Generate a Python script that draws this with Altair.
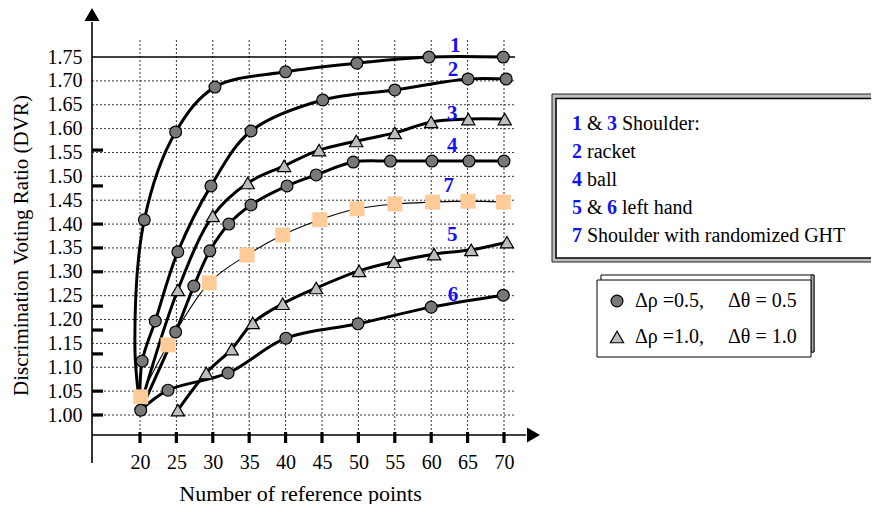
import altair as alt
import pandas as pd

# ---------------- data ----------------
X_TICKS = [20, 25, 30, 35, 40, 45, 50, 55, 60, 65, 70]
Y_LABELS = [1.00, 1.05, 1.10, 1.15, 1.20, 1.25, 1.30, 1.35, 1.40, 1.45,
            1.50, 1.55, 1.60, 1.65, 1.70, 1.75]
Y_TICK_MARKS = [1.00, 1.05, 1.128, 1.178, 1.228, 1.30, 1.35, 1.40, 1.48, 1.555]

CURVE_NAMES = ["1", "2", "3", "4", "5", "6", "7"]
CURVE_SHAPES = ["circle", "circle", "triangle", "circle", "triangle", "circle", "square"]

C1_X = [20.0, 19.3, 20.6, 24.9, 30.3, 40.0, 49.8, 59.7, 69.9]
C1_Y = [1.017, 1.147, 1.409, 1.593, 1.687, 1.719, 1.737, 1.750, 1.750]
C1_M = [0, 0, 1, 1, 1, 1, 1, 1, 1]

C2_X = [20.0, 20.3, 22.1, 25.2, 29.75, 35.25, 45.1, 55.0, 65.05, 70.3]
C2_Y = [1.027, 1.113, 1.197, 1.342, 1.480, 1.595, 1.660, 1.681, 1.704, 1.704]
C2_M = [0, 1, 1, 1, 1, 1, 1, 1, 1, 1]

C3_X = [20.1, 25.2, 30.0, 34.8, 39.8, 44.6, 49.7, 55.0, 60.0, 65.1, 70.1]
C3_Y = [1.021, 1.262, 1.417, 1.486, 1.522, 1.555, 1.574, 1.591, 1.614, 1.620, 1.620]
C3_M = [0, 1, 1, 1, 1, 1, 1, 1, 1, 1, 1]

C4_X = [20.1, 24.9, 27.4, 29.6, 32.2, 35.25, 40.2, 44.2, 49.3, 54.4, 60.1, 65.2, 70.0]
C4_Y = [1.010, 1.174, 1.270, 1.344, 1.400, 1.440, 1.480, 1.503, 1.530, 1.532,
        1.532, 1.532, 1.532]
C4_M = [0, 1, 1, 1, 1, 1, 1, 1, 1, 1, 1, 1, 1]

C5_X = [25.2, 29.1, 32.6, 35.5, 39.6, 44.2, 50.1, 54.9, 60.4, 65.5, 70.4]
C5_Y = [1.010, 1.088, 1.138, 1.193, 1.233, 1.266, 1.302, 1.321, 1.337, 1.346, 1.362]
C5_M = [1, 1, 1, 1, 1, 1, 1, 1, 1, 1, 1]

C6_X = [20.1, 23.85, 32.1, 40.05, 49.95, 60.0, 69.9]
C6_Y = [1.010, 1.052, 1.088, 1.161, 1.191, 1.226, 1.251]
C6_M = [1, 1, 1, 1, 1, 1, 1]

C7_X = [20.1, 23.85, 29.5, 34.7, 39.6, 44.7, 49.8, 55.0, 60.2, 65.05, 69.9]
C7_Y = [1.038, 1.147, 1.277, 1.335, 1.377, 1.409, 1.432, 1.442, 1.446, 1.448, 1.446]
C7_M = [1, 1, 1, 1, 1, 1, 1, 1, 1, 1, 1]

LABEL_X = [63.3, 63.0, 62.9, 62.9, 62.9, 63.0, 62.4]
LABEL_Y = [1.773, 1.723, 1.631, 1.564, 1.377, 1.251, 1.480]

LEG1_TEXT = ["1", "&", "3", "Shoulder:", "2", "racket", "4", "ball",
             "5", "&", "6", "left hand", "7", "Shoulder with randomized GHT"]
LEG1_BLUE = [1, 0, 1, 0, 1, 0, 1, 0, 1, 0, 1, 0, 1, 0]
LEG1_LINE = [0, 0, 0, 0, 1, 1, 2, 2, 3, 3, 3, 3, 4, 4]

LEG2_TEXT = ["\u0394\u03c1 =0.5,", "\u0394\u03b8 = 0.5", "\u0394\u03c1 =1.0,", "\u0394\u03b8 = 1.0"]
LEG2_LINE = [0, 0, 1, 1]

X_TITLE = "Number of reference points"
Y_TITLE = "Discrimination Voting Ratio (DVR)"

# ---------------- layout / style ----------------
W, H = 448, 427
X_DOMAIN = [13.41, 74.945]
Y_DOMAIN = [0.9581, 1.8527]
FONT = "Liberation Serif"
BLUE = "#1212F5"
CIRCLE_FILL = "#787878"
TRI_FILL = "#bdbdbd"
SQUARE_FILL = "#FFCC99"

LEG1_COL = [480, 495, 515, 530, 480, 495, 480, 495, 480, 495, 515, 530, 480, 495]
LEG1_ROW_Y = [116, 144, 172, 200, 228]
LEG2_COL = [543, 636, 543, 636]
LEG2_ROW_Y = [293, 329]

XS = alt.Scale(domain=X_DOMAIN, nice=False, zero=False)
YS = alt.Scale(domain=Y_DOMAIN, nice=False, zero=False)

X_AXIS = alt.Axis(values=X_TICKS, format="d", domain=False, ticks=False, tickSize=0,
                  grid=False, labelFont=FONT, labelFontSize=20, labelColor="black",
                  labelPadding=27, labelBaseline="middle",
                  title=X_TITLE, titleFont=FONT, titleFontSize=22, titleFontWeight="normal",
                  titleColor="black", titleX=208, titleY=58, titleBaseline="middle",
                  titleAlign="center")
Y_AXIS = alt.Axis(values=Y_LABELS, format=".2f", domain=False, ticks=False, tickSize=0,
                  grid=False, labelFont=FONT, labelFontSize=20, labelColor="black",
                  labelPadding=10,
                  title=Y_TITLE, titleFont=FONT, titleFontSize=21, titleFontWeight="normal",
                  titleColor="black", titleX=-71, titleY=237, titleAngle=270,
                  titleBaseline="middle", titleAlign="center")


def X(field):
    return alt.X(field, scale=XS, axis=X_AXIS)


def Y(field):
    return alt.Y(field, scale=YS, axis=Y_AXIS)


rows = []
for name, shape, xs, ys, ms in zip(
        CURVE_NAMES, CURVE_SHAPES,
        [C1_X, C2_X, C3_X, C4_X, C5_X, C6_X, C7_X],
        [C1_Y, C2_Y, C3_Y, C4_Y, C5_Y, C6_Y, C7_Y],
        [C1_M, C2_M, C3_M, C4_M, C5_M, C6_M, C7_M]):
    for i, (xv, yv, mv) in enumerate(zip(xs, ys, ms)):
        rows.append(dict(curve=name, shape=shape, order=i, x=xv, y=yv, marked=mv))
df = pd.DataFrame(rows)

one = pd.DataFrame({"a": [0]})

# grid
vgrid = alt.Chart(pd.DataFrame({"x": X_TICKS, "y": [Y_LABELS[0]] * len(X_TICKS)})).mark_rule(
    color="#333333", strokeWidth=1, strokeDash=[2, 2]).encode(
    x=X("x:Q"), y=alt.value(32), y2=alt.value(H))
hgrid = alt.Chart(pd.DataFrame({"y": Y_LABELS[:-1]})).mark_rule(
    color="#333333", strokeWidth=1, strokeDash=[2, 2]).encode(
    y=Y("y:Q"), x=alt.value(0), x2=alt.value(423))
hsolid = alt.Chart(pd.DataFrame({"y": Y_LABELS[-1:]})).mark_rule(
    color="black", strokeWidth=1.3).encode(
    y=Y("y:Q"), x=alt.value(0), x2=alt.value(423))

# axes lines, arrows, ticks
yline = alt.Chart(one).mark_rule(color="black", strokeWidth=1.6).encode(
    x=alt.value(0), y=alt.value(14), y2=alt.value(455))
xline = alt.Chart(one).mark_rule(color="black", strokeWidth=1.6).encode(
    y=alt.value(H), x=alt.value(0), x2=alt.value(434))
yarrow = alt.Chart(one).mark_point(shape="triangle-up", size=225, filled=True,
                                    color="black", opacity=1).encode(
    x=alt.value(0), y=alt.value(6.5))
xarrow = alt.Chart(one).mark_point(shape="triangle-right", size=225, filled=True,
                                    color="black", opacity=1).encode(
    x=alt.value(441.5), y=alt.value(H))
xticks = alt.Chart(pd.DataFrame({"x": X_TICKS})).mark_rule(
    color="black", strokeWidth=3.2).encode(
    x=X("x:Q"), y=alt.value(H - 3), y2=alt.value(H + 8))
yticks = alt.Chart(pd.DataFrame({"y": Y_TICK_MARKS})).mark_rule(
    color="black", strokeWidth=3.2).encode(
    y=Y("y:Q"), x=alt.value(0), x2=alt.value(11))

# curves
enc = dict(x=X("x:Q"), y=Y("y:Q"))
thick = alt.Chart(df).transform_filter("datum.curve != '7'").mark_line(
    interpolate="catmull-rom", color="black", strokeWidth=3).encode(
    detail="curve:N", order="order:Q", **enc)
thin = alt.Chart(df).transform_filter("datum.curve == '7'").mark_line(
    interpolate="catmull-rom", color="black", strokeWidth=1.1).encode(
    order="order:Q", **enc)
circles = alt.Chart(df).transform_filter(
    "datum.marked == 1 && datum.shape == 'circle'").mark_point(
    shape="circle", filled=True, fill=CIRCLE_FILL, stroke="black", strokeWidth=1.2,
    size=140, opacity=1).encode(**enc)
tris = alt.Chart(df).transform_filter(
    "datum.marked == 1 && datum.shape == 'triangle'").mark_point(
    shape="triangle-up", filled=True, fill=TRI_FILL, stroke="black", strokeWidth=1.2,
    size=175, opacity=1).encode(**enc)
squares = alt.Chart(df).transform_filter(
    "datum.marked == 1 && datum.shape == 'square'").mark_square(
    size=225, color=SQUARE_FILL, opacity=1).encode(**enc)

labels = alt.Chart(pd.DataFrame({"t": CURVE_NAMES, "x": LABEL_X, "y": LABEL_Y})).mark_text(
    font=FONT, fontSize=21, fontWeight="bold", color=BLUE).encode(
    text="t:N", **enc)

# legend 1 (box + rich text); box runs off the right edge as in the reference
box1_outer = alt.Chart(one).mark_rect(fill="#bcbcbc", stroke="#222222", strokeWidth=1).encode(
    x=alt.value(460), x2=alt.value(830), y=alt.value(86), y2=alt.value(254))
box1_inner = alt.Chart(one).mark_rect(fill="white", stroke="black", strokeWidth=1.5).encode(
    x=alt.value(464), x2=alt.value(830), y=alt.value(90.5), y2=alt.value(250))
leg1 = pd.DataFrame({"t": LEG1_TEXT, "blue": LEG1_BLUE,
                     "px": LEG1_COL, "py": [LEG1_ROW_Y[i] for i in LEG1_LINE]})
leg1_blue = alt.Chart(leg1).transform_filter("datum.blue == 1").mark_text(
    font=FONT, fontSize=20, fontWeight="bold", color=BLUE, align="left",
    baseline="middle").encode(
    x=alt.X("px:Q", scale=None), y=alt.Y("py:Q", scale=None), text="t:N")
leg1_black = alt.Chart(leg1).transform_filter("datum.blue == 0").mark_text(
    font=FONT, fontSize=20, color="black", align="left", baseline="middle").encode(
    x=alt.X("px:Q", scale=None), y=alt.Y("py:Q", scale=None), text="t:N")

# legend 2 (shadowed box with markers)
box2_back = alt.Chart(one).mark_rect(fill="white", stroke="black", strokeWidth=1).encode(
    x=alt.value(509), x2=alt.value(722), y=alt.value(267), y2=alt.value(344))
box2_shade = alt.Chart(one).mark_rect(fill="#a8a8a8", stroke="black", strokeWidth=0.8).encode(
    x=alt.value(719), x2=alt.value(722), y=alt.value(267), y2=alt.value(344))
box2_front = alt.Chart(one).mark_rect(fill="white", stroke="black", strokeWidth=1).encode(
    x=alt.value(505), x2=alt.value(719), y=alt.value(272), y2=alt.value(349))
leg2_circle = alt.Chart(one).mark_point(
    shape="circle", filled=True, fill=CIRCLE_FILL, stroke="black", strokeWidth=1.2,
    size=140, opacity=1).encode(x=alt.value(525), y=alt.value(LEG2_ROW_Y[0]))
leg2_tri = alt.Chart(one).mark_point(
    shape="triangle-up", filled=True, fill=TRI_FILL, stroke="black", strokeWidth=1.2,
    size=175, opacity=1).encode(x=alt.value(525), y=alt.value(LEG2_ROW_Y[1]))
leg2 = pd.DataFrame({"t": LEG2_TEXT, "px": LEG2_COL,
                     "py": [LEG2_ROW_Y[i] for i in LEG2_LINE]})
leg2_text = alt.Chart(leg2).mark_text(
    font=FONT, fontSize=20, color="black", align="left", baseline="middle").encode(
    x=alt.X("px:Q", scale=None), y=alt.Y("py:Q", scale=None), text="t:N")

chart = alt.layer(
    vgrid, hgrid, hsolid, yline, xline, yarrow, xarrow, xticks, yticks,
    thin, thick, squares, circles, tris, labels,
    box1_outer, box1_inner, leg1_blue, leg1_black,
    box2_back, box2_shade, box2_front, leg2_circle, leg2_tri, leg2_text,
).properties(
    width=W, height=H,
    padding={"left": 84, "top": 0, "right": 331, "bottom": 69},
    autosize=alt.AutoSizeParams(type="none"),
    background="white",
).configure_view(stroke=None)

chart.save("out.html", embed_options={"renderer": "svg", "actions": False})
